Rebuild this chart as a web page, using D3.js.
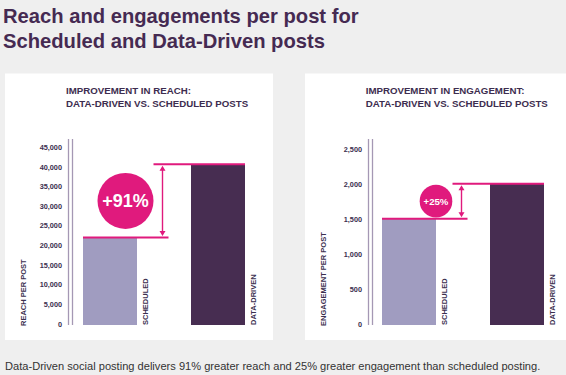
<!DOCTYPE html>
<html>
<head>
<meta charset="utf-8">
<script src="https://cdn.jsdelivr.net/npm/d3@7"></script>
<style>
    body { margin: 0; background: #efefef; }
    svg { display: block; font-family: "Liberation Sans", Arial, sans-serif; }
    .main-title { font-size: 20.2px; font-weight: bold; fill: #452a52; }
    .chart-title { font-size: 9.7px; font-weight: bold; fill: #3d2d4f; }
    .tick-label { font-size: 7.3px; font-weight: bold; fill: #3b2f4f; }
    .axis-title, .cat-label { font-size: 7.5px; font-weight: bold; fill: #3b2f4f; }
    .footer { font-size: 11.1px; fill: #333; }
</style>
</head>
<body>
<div id="chart"></div>
<script>
// chart values
const categories = ['SCHEDULED', 'DATA-DRIVEN'];
const reachValues = [22000, 40700];
const engagementValues = [1505, 2005];
const reachTicks = [0, 5000, 10000, 15000, 20000, 25000, 30000, 35000, 40000, 45000];
const engagementTicks = [0, 500, 1000, 1500, 2000, 2500];
const reachLift = '+91%';
const engagementLift = '+25%';

const W = 566, H = 375;
const magenta = '#e01a7d';
const barColors = ['#a09cc0', '#472d51'];
const axisColor = '#a598b4';

const svg = d3.select('#chart').append('svg')
    .attr('width', W)
    .attr('height', H);

svg.append('rect')
    .attr('width', W)
    .attr('height', H)
    .attr('fill', '#efefef');

// header
svg.selectAll('.main-title')
    .data(['Reach and engagements per post for', 'Scheduled and Data-Driven posts'])
    .enter()
    .append('text')
    .attr('class', 'main-title')
    .attr('x', 3)
    .attr('y', (d, i) => 22.5 + i * 25)
    .text(d => d);

// one panel per metric
function drawPanel(cfg) {
    const g = svg.append('g');

    g.append('rect')
        .attr('x', cfg.panel[0])
        .attr('y', 73.5)
        .attr('width', cfg.panel[1])
        .attr('height', 266.5)
        .attr('fill', '#fff');

    g.selectAll('.chart-title')
        .data(cfg.title)
        .enter()
        .append('text')
        .attr('class', 'chart-title')
        .attr('x', cfg.titleX)
        .attr('y', (d, i) => 94.3 + i * 13)
        .text(d => d);

    const y = d3.scaleLinear()
        .domain([0, d3.max(cfg.ticks)])
        .range([324, cfg.top]);

    const x = d3.scaleBand()
        .domain(categories)
        .range(cfg.bars)
        .paddingInner(0.5);
    const bw = x.bandwidth();

    // tick labels
    g.selectAll('.tick-label')
        .data(cfg.ticks)
        .enter()
        .append('text')
        .attr('class', 'tick-label')
        .attr('x', cfg.axisX - 6.5)
        .attr('y', d => y(d) + 2.6)
        .attr('text-anchor', 'end')
        .text(d => d3.format(',')(d));

    // double axis line
    g.selectAll('.axis-line')
        .data([0, 4])
        .enter()
        .append('line')
        .attr('x1', d => cfg.axisX + d)
        .attr('x2', d => cfg.axisX + d)
        .attr('y1', 139)
        .attr('y2', 325)
        .attr('stroke', axisColor)
        .attr('stroke-width', 1.3);

    // axis title
    g.append('text')
        .attr('class', 'axis-title')
        .attr('transform', `translate(${cfg.axisTitleX},326) rotate(-90)`)
        .text(cfg.axisTitle);

    // bars
    g.selectAll('.bar')
        .data(cfg.values)
        .enter()
        .append('rect')
        .attr('class', 'bar')
        .attr('x', (d, i) => x(categories[i]))
        .attr('y', d => y(d))
        .attr('width', bw)
        .attr('height', d => 325 - y(d))
        .attr('fill', (d, i) => barColors[i]);

    // category labels
    g.selectAll('.cat-label')
        .data(categories)
        .enter()
        .append('text')
        .attr('class', 'cat-label')
        .attr('transform', d => `translate(${x(d) + bw + 11},325) rotate(-90)`)
        .text(d => d);

    // comparison lines
    const x0 = x(categories[0]), x1 = x(categories[1]);
    const arrowX = x0 + bw + 25.5;
    const yLow = y(cfg.values[0]), yHigh = y(cfg.values[1]);

    g.append('line')
        .attr('x1', x0).attr('x2', arrowX + 6)
        .attr('y1', yLow).attr('y2', yLow)
        .attr('stroke', magenta).attr('stroke-width', 2);
    g.append('line')
        .attr('x1', arrowX - 9).attr('x2', x1 + bw)
        .attr('y1', yHigh).attr('y2', yHigh)
        .attr('stroke', magenta).attr('stroke-width', 2);

    g.append('line')
        .attr('x1', arrowX).attr('x2', arrowX)
        .attr('y1', yHigh + 4).attr('y2', yLow - 4)
        .attr('stroke', magenta).attr('stroke-width', 1.4);
    g.append('path')
        .attr('d', `M${arrowX},${yHigh + 1.5}l-3,5h6z M${arrowX},${yLow - 1.5}l-3,-5h6z`)
        .attr('fill', magenta);

    // lift badge
    const cy = (yLow + yHigh) / 2;
    const cx = arrowX - cfg.badgeOffset;
    g.append('circle')
        .attr('cx', cx)
        .attr('cy', cy)
        .attr('r', cfg.badgeR)
        .attr('fill', magenta);
    g.append('text')
        .attr('x', cx)
        .attr('y', cy + cfg.badgeFont * 0.36)
        .attr('text-anchor', 'middle')
        .style('font-size', cfg.badgeFont + 'px')
        .style('font-weight', 'bold')
        .attr('fill', '#fff')
        .text(cfg.lift);
}

drawPanel({
    panel: [5, 268],
    title: ['IMPROVEMENT IN REACH:', 'DATA-DRIVEN VS. SCHEDULED POSTS'],
    titleX: 66,
    ticks: reachTicks,
    values: reachValues,
    top: 147.3,
    bars: [83, 245],
    axisX: 68.5,
    axisTitleX: 26,
    axisTitle: 'REACH PER POST',
    lift: reachLift,
    badgeOffset: 37,
    badgeR: 28,
    badgeFont: 18
});

drawPanel({
    panel: [305, 270],
    title: ['IMPROVEMENT IN ENGAGEMENT:', 'DATA-DRIVEN VS. SCHEDULED POSTS'],
    titleX: 365.7,
    ticks: engagementTicks,
    values: engagementValues,
    top: 149,
    bars: [382, 544],
    axisX: 368.5,
    axisTitleX: 325.5,
    axisTitle: 'ENGAGEMENT PER POST',
    lift: engagementLift,
    badgeOffset: 25.5,
    badgeR: 16.3,
    badgeFont: 9.6
});

// footer
svg.append('text')
    .attr('class', 'footer')
    .attr('x', 5)
    .attr('y', 370)
    .text('Data-Driven social posting delivers 91% greater reach and 25% greater engagement than scheduled posting.');
</script>
</body>
</html>
